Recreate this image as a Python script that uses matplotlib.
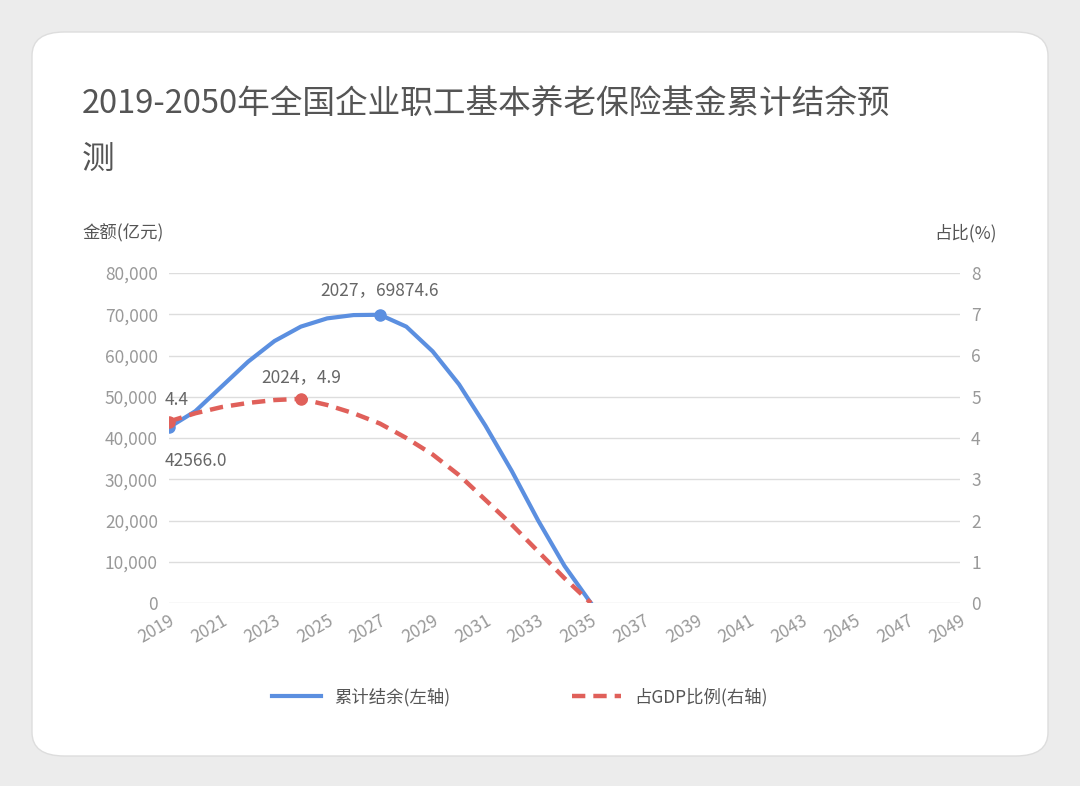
import matplotlib
matplotlib.use("Agg")
import matplotlib.pyplot as plt
from matplotlib.patches import FancyBboxPatch
import numpy as np

plt.rcParams['font.family'] = ['Noto Sans CJK SC', 'DejaVu Sans']

years = list(range(2019, 2050))
fund = [42566, 46500, 52500, 58500, 63500, 67000, 69000, 69800, 69874.6, 67000,
        61000, 53000, 43000, 32000, 20000, 9000, 0]
ratio = [4.4, 4.6, 4.75, 4.85, 4.92, 4.95, 4.8, 4.6, 4.35, 4.0, 3.6, 3.1, 2.5,
         1.9, 1.25, 0.6, 0]
left_ticks = [0, 10000, 20000, 30000, 40000, 50000, 60000, 70000, 80000]
right_ticks = [0, 1, 2, 3, 4, 5, 6, 7, 8]

fig = plt.figure(figsize=(10.8, 7.86), dpi=100)
fig.patch.set_facecolor('#ececec')
card = FancyBboxPatch((32/1080, 30/786), 1016/1080, 724/786,
                      boxstyle="round,pad=0,rounding_size=0.03", transform=fig.transFigure,
                      facecolor='white', edgecolor='#dddddd', lw=1, zorder=-10)
fig.patches.append(card)

ax = fig.add_axes([169/1080, 1-603/786, (960-169)/1080, 330/786])
ax.set_facecolor('none')
ax2 = ax.twinx()
ax2.set_facecolor('none')
x = np.arange(len(years))
blue = '#5B8FE0'; red = '#E0605A'
l1, = ax.plot(x[:len(fund)], fund, color=blue, lw=3, zorder=3)
ax.plot([0, 8], [fund[0], fund[8]], 'o', color=blue, ms=8, zorder=4)
l2, = ax2.plot(x[:len(ratio)], ratio, color=red, lw=3.2, ls=(0, (3, 1.8)), zorder=3)
ax2.plot([0, 5], [ratio[0], ratio[5]], 'o', color=red, ms=8, zorder=4)

ax.set_xlim(0, len(years) - 1)
ax.set_ylim(0, 80000); ax2.set_ylim(0, 8)
ax.set_yticks(left_ticks)
ax.set_yticklabels([f"{v:,}" for v in left_ticks])
ax2.set_yticks(right_ticks)
ax.set_xticks(x[::2])
ax.set_xticklabels([str(y) for y in years[::2]], rotation=30, ha='right', rotation_mode='anchor')
ax.grid(axis='y', color='#dddddd', lw=1)
for a in (ax, ax2):
    for s in a.spines.values():
        s.set_visible(False)
    a.tick_params(length=0, colors='#999999', labelsize=12.5)
ax.tick_params(axis='y', pad=8)
ax2.tick_params(axis='y', pad=8)
ax.tick_params(axis='x', pad=6)

ax.annotate("42566.0", (0, fund[0]), xytext=(-3, -28), textcoords='offset points', color='#666666', fontsize=12.5)
ax.annotate("2027，69874.6", (8, fund[8]), xytext=(0, 14), textcoords='offset points', color='#666666', fontsize=12.5, ha='center')
ax2.annotate("4.4", (0, ratio[0]), xytext=(-3, 12), textcoords='offset points', color='#666666', fontsize=12.5)
ax2.annotate("2024，4.9", (5, ratio[5]), xytext=(0, 12), textcoords='offset points', color='#666666', fontsize=12.5, ha='center')

fig.text(82/1080, 1-105/786, "2019-2050年全国企业职工基本养老保险基金累计结余预", fontsize=23.5, color='#555555', va='center')
fig.text(82/1080, 1-160/786, "测", fontsize=23.5, color='#555555', va='center')
fig.text(82/1080, 1-233/786, "金额(亿元)", fontsize=12.5, color='#555555', va='center')
fig.text(997/1080, 1-233/786, "占比(%)", fontsize=12.5, color='#555555', va='center', ha='right')

fig.legend([l1, l2], ["累计结余(左轴)", "占GDP比例(右轴)"], loc='center', bbox_to_anchor=(520/1080, 1-697/786),
           ncol=2, frameon=False, fontsize=12.5, labelcolor='#555555', columnspacing=7, handlelength=2.8)

fig.savefig("out.png", dpi=100, facecolor=fig.get_facecolor())
